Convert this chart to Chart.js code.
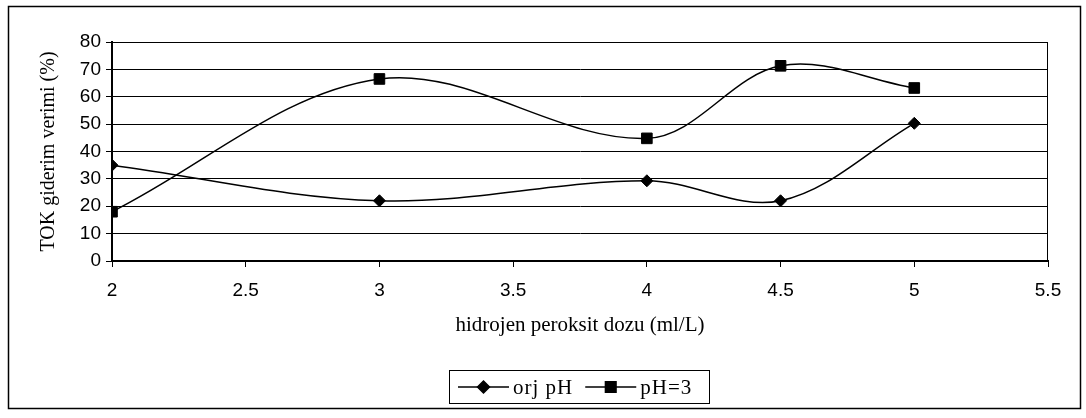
<!DOCTYPE html>
<html>
<head>
<meta charset="utf-8">
<script src="https://cdn.jsdelivr.net/npm/chart.js@4.4.0/dist/chart.umd.min.js"></script>
<style>
  html, body { margin: 0; padding: 0; background: #fff; }
  #wrap { width: 1086px; height: 418px; }
</style>
</head>
<body>
<div id="wrap"><canvas id="chart" width="1086" height="418"></canvas></div>
<script>
// data
var doses = [2, 3, 4, 4.5, 5];
var orjPH = [35, 22, 29.3, 22, 50.3];
var pH3 = [18, 66.5, 44.8, 71.3, 63.2];
var seriesNames = ['orj pH', 'pH=3'];
var yTicks = [0, 10, 20, 30, 40, 50, 60, 70, 80];
var xTicks = [2, 2.5, 3, 3.5, 4, 4.5, 5, 5.5];

function toPoints(xs, ys) {
  return xs.map(function (x, i) { return { x: x, y: ys[i] }; });
}

var sans = '"Liberation Sans", Arial, sans-serif';
var serif = '"Liberation Serif", "Times New Roman", serif';

// outer frame, plot frame and the boxed legend
var framePlugin = {
  id: 'frames',
  beforeDraw: function (chart) {
    var ctx = chart.ctx;
    ctx.save();
    ctx.fillStyle = '#fff';
    ctx.fillRect(0, 0, chart.width, chart.height);
    ctx.strokeStyle = '#000';
    ctx.lineWidth = 1.5;
    ctx.strokeRect(8.5, 6.5, 1072, 402);
    ctx.restore();
  },
  afterDraw: function (chart) {
    var ctx = chart.ctx;
    var a = chart.chartArea;
    ctx.save();
    ctx.strokeStyle = '#000';
    ctx.lineWidth = 1;
    ctx.strokeRect(a.left, a.top + 0.5, a.right - a.left - 0.5, a.bottom - a.top);

    // legend
    ctx.strokeRect(449.5, 370.5, 260, 33);
    var y = 387;
    var x = 458;
    ctx.font = '21px ' + serif;
    if ('letterSpacing' in ctx) ctx.letterSpacing = '1px';
    ctx.textBaseline = 'middle';
    ctx.fillStyle = '#000';
    chart.data.datasets.forEach(function (ds) {
      ctx.lineWidth = 1.5;
      ctx.beginPath();
      ctx.moveTo(x, y);
      ctx.lineTo(x + 51, y);
      ctx.stroke();
      Chart.helpers.drawPoint(ctx, {
        pointStyle: ds.pointStyle,
        radius: ds.pointRadius,
        borderWidth: 1
      }, x + 25.5, y);
      ctx.fillText(ds.label, x + 55, y + 1);
      x += 55 + ctx.measureText(ds.label).width + 12;
    });
    ctx.restore();
  }
};

new Chart(document.getElementById('chart'), {
  type: 'line',
  data: {
    datasets: [
      {
        label: seriesNames[0],
        data: toPoints(doses, orjPH),
        borderColor: '#000',
        backgroundColor: '#000',
        borderWidth: 1.5,
        pointStyle: 'rectRot',
        pointRadius: 6,
        pointBorderWidth: 1,
        tension: 0.35
      },
      {
        label: seriesNames[1],
        data: toPoints(doses, pH3),
        borderColor: '#000',
        backgroundColor: '#000',
        borderWidth: 1.5,
        pointStyle: 'rect',
        pointRadius: 7.5,
        pointBorderWidth: 1,
        tension: 0.35
      }
    ]
  },
  options: {
    responsive: false,
    animation: false,
    devicePixelRatio: 1,
    layout: { padding: { left: 0, right: 38, top: 42, bottom: 77 } },
    plugins: {
      legend: { display: false },
      tooltip: { enabled: false }
    },
    scales: {
      x: {
        type: 'linear',
        min: 2,
        max: 5.5,
        afterBuildTicks: function (s) { s.ticks = xTicks.map(function (v) { return { value: v }; }); },
        afterFit: function (s) { s.height = 80; },
        grid: { drawOnChartArea: false, drawTicks: true, tickLength: 6, color: '#000' },
        border: { color: '#000', width: 2 },
        ticks: {
          color: '#000',
          font: { family: sans, size: 19 },
          padding: 12,
          maxRotation: 0,
          callback: function (v) { return String(v); }
        },
        title: {
          display: true,
          text: 'hidrojen peroksit dozu (ml/L)',
          color: '#000',
          font: { family: serif, size: 21 },
          padding: { top: 0, bottom: 3 }
        }
      },
      y: {
        min: 0,
        max: 80,
        afterBuildTicks: function (s) { s.ticks = yTicks.map(function (v) { return { value: v }; }); },
        afterFit: function (s) { s.width = 112; },
        grid: { color: '#000', lineWidth: 1, tickLength: 6 },
        border: { color: '#000', width: 2 },
        ticks: { color: '#000', font: { family: sans, size: 19 }, padding: 5 },
        title: {
          display: true,
          text: 'TOK giderim verimi (%)',
          color: '#000',
          font: { family: serif, size: 20 },
          padding: { top: 37, bottom: 0 }
        }
      }
    }
  },
  plugins: [framePlugin]
});
</script>
</body>
</html>
